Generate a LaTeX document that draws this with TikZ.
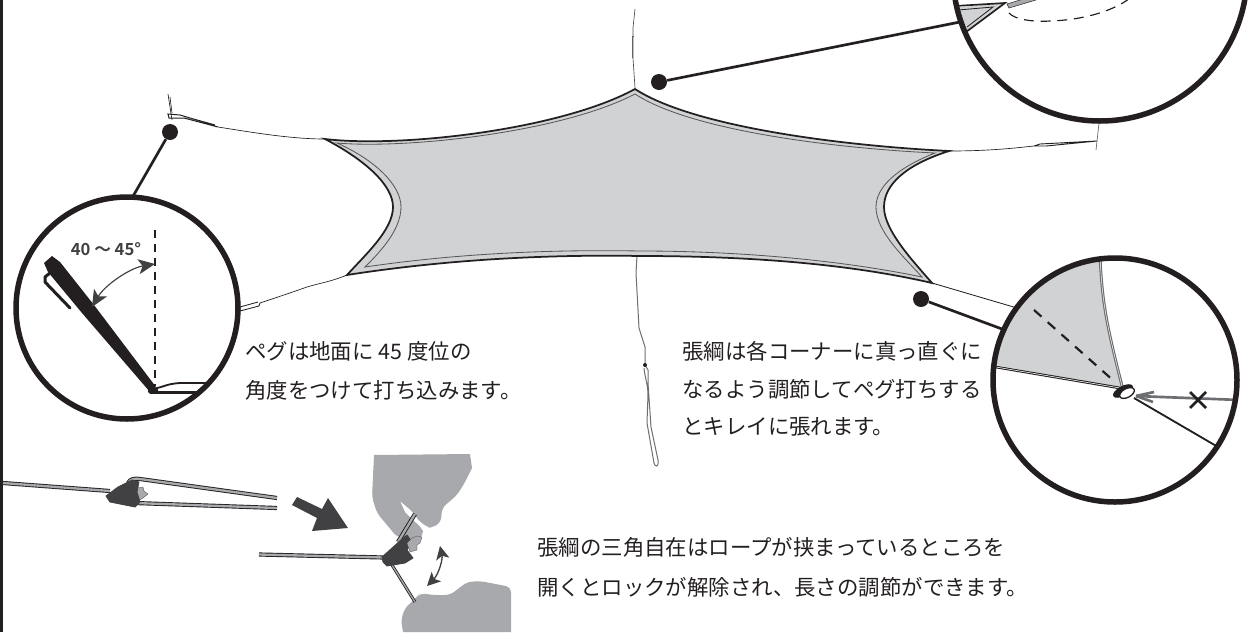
\documentclass[tikz,border=0pt]{standalone}
\usepackage{fontspec}
\newfontfamily\jp{Noto Sans CJK JP}
\newfontfamily\jpb{Noto Sans CJK JP Bold}
\usetikzlibrary{arrows.meta}
\definecolor{ink}{RGB}{35,31,32}
\definecolor{tarp}{RGB}{208,210,211}
\definecolor{hand}{RGB}{167,169,172}
\definecolor{blockc}{RGB}{65,64,66}
\definecolor{greyl}{RGB}{109,110,113}
\tikzset{
 lens/.style={draw=ink,line width=3.3pt},
 dotn/.style={circle,fill=ink,inner sep=0pt,minimum size=9.6pt},
 leader/.style={draw=ink,line width=1.6pt},
 rope/.style={draw=ink,line width=.4pt},
 txt/.style={anchor=west,inner sep=0pt,text=ink,font=\jp\fontsize{12.85}{12.85}\selectfont},
 cordo/.style={draw=ink,line width=2.5pt},
 cordi/.style={draw=hand,line width=1.4pt},
 blk/.style={fill=blockc,draw=blockc,line width=.5pt,line join=round},
 handf/.style={fill=hand,draw=none},
 knob/.style={fill=hand,draw=blockc,line width=.15pt,line join=round},
}
\newcommand{\cord}[1]{\draw[cordo] #1; \draw[cordi] #1;}
\begin{document}
\begin{tikzpicture}[x=0.6pt,y=-0.6pt]
\useasboundingbox (0,0) rectangle (1250,632);
\begin{scope}
\clip (0,0) rectangle (1250,632);
% left bar
\fill[ink] (0,0) rectangle (3,632);

% ropes
\draw[rope] (325,139) .. controls (290,139) and (250,132) .. (218,127);
\draw[rope,line width=.6pt] (218,127) -- (184,118) -- (169,118) -- (168,114) -- (180,115) -- (190,118) -- (215,125);
\draw[rope] (168,94) -- (172,120); \draw[rope] (170,97)--(172,113);
\draw[rope] (347,275) .. controls (330,282) and (320,283) .. (307,287) .. controls (290,293) and (275,298) .. (260,303);
\draw[rope,line width=.5pt] (260,303) -- (259,306) -- (240,311) -- (240,307) -- (258,302);
\draw[rope,draw=ink!80] (635,88) -- (633,58) -- (633,28) -- (635,9);
\draw[rope,draw=ink!70] (632,58) -- (632,36) -- (634,36);
\draw[rope] (949,151) .. controls (990,151) and (1015,148) .. (1034,146);
\draw[rope,line width=.55pt] (1034,146) -- (1040,144) -- (1097,141) -- (1046,146) -- (1034,146);
\draw[rope,draw=ink!70] (1099,123) -- (1096,150);
\draw[rope,draw=greyl,line width=.6pt] (637,256) -- (636,273) -- (639,328) -- (645,347) -- (645,365);
\draw[rope,draw=greyl,line width=.6pt] (644,368) .. controls (645,378) and (648,385) .. (648,395) -- (647,423) -- (654,463) .. controls (655,467) and (659,468) .. (658,460) -- (651,427) -- (648,383) -- (648,370) -- (645,365);
\fill[ink] (645,365) circle (2);

% tarp
\path[fill=tarp] (325,139) .. controls (400,148) and (560,130) .. (635,89)
 .. controls (690,125) and (830,145) .. (949,151)
 .. controls (905,165) and (884,185) .. (884,207)
 .. controls (884,230) and (912,260) .. (932,283)
 .. controls (850,264) and (750,256) .. (640,256)
 .. controls (530,254) and (430,262) .. (347,275)
 .. controls (365,255) and (393,230) .. (393,207)
 .. controls (393,185) and (365,160) .. (325,139) -- cycle;
\draw[ink,line width=1.05pt,line join=miter] (325,139) .. controls (400,148) and (560,130) .. (635,89)
 .. controls (690,125) and (830,145) .. (949,151)
 .. controls (905,165) and (884,185) .. (884,207)
 .. controls (884,230) and (912,260) .. (932,283)
 .. controls (850,264) and (750,256) .. (640,256)
 .. controls (530,254) and (430,262) .. (347,275)
 .. controls (365,255) and (393,230) .. (393,207)
 .. controls (393,185) and (365,160) .. (325,139) -- cycle;
\draw[greyl!70!ink,line width=.5pt] (337,143) .. controls (405,149) and (560,133) .. (635,94)
 .. controls (690,130) and (830,148) .. (935,153)
 .. controls (897,168) and (876,187) .. (876,207)
 .. controls (876,232) and (905,258) .. (922,277)
 .. controls (850,262) and (750,251) .. (640,251)
 .. controls (530,249) and (440,256) .. (365,267)
 .. controls (380,252) and (401,230) .. (401,207)
 .. controls (401,185) and (375,160) .. (337,143) -- cycle;

% ---- top lens
\node[dotn] (dotT) at (659,82) {};
\coordinate (lensT) at (960,22);
\draw[leader] (dotT) -- (lensT);
\begin{scope}
\clip (1100,-26) circle (147);
\fill[tarp] (950,8) -- (1005,3) -- (966,32) -- (950,32) -- cycle;
\draw[ink,line width=1pt] (955,6) -- (1005,3) -- (966,32);
\draw[ink,line width=.5pt] (958,10) -- (993,7) -- (967,27);
\fill[hand,draw=ink,line width=.3pt] (1007,4) -- (1009,8) -- (1036,0) -- (1033,-4) -- cycle;
\draw[ink,line width=.7pt,dash pattern=on 6pt off 4pt] (1009,13) .. controls (1015,20) and (1035,22) .. (1050,21) .. controls (1085,20) and (1115,10) .. (1130,-2);
\end{scope}
\node[lens,circle,inner sep=0pt,minimum size=176.4pt,fill=none] (lensTop) at (1100,-26) {};

% ---- left lens
\node[dotn] (dotL) at (170,132) {};
\coordinate (lensL) at (132,198);
\draw[leader] (dotL) -- (lensL);
\begin{scope}
\clip (127,308) circle (111);
\fill[ink] (44,263) -- (52,256) -- (60,262) -- (94,305) -- (156,387) -- (150,392) -- (82,313) -- (48,272) -- cycle;
\draw[ink,line width=1.8pt,line cap=round,line join=round] (50,273) -- (45,277) -- (45,282) -- (70,308);
\draw[ink,dash pattern=on 5pt off 3.4pt,line width=1pt] (155,230) -- (155,386);
\draw[ink,line width=1.1pt] (152,389) .. controls (165,387) and (165,384) .. (180,383) -- (208,383);
\draw[ink,line width=1.5pt] (150,392.5) -- (200,392.5);
\fill[ink,rounded corners=1pt] (148,388) rectangle (158,393.5);
\end{scope}
\draw[blockc,line width=.7pt,{Stealth[length=10pt,width=9pt,inset=2.5pt]}-{Stealth[length=10pt,width=9pt,inset=2.5pt]}] (92,307) .. controls (105,285) and (130,268) .. (155,264);
\node[inner sep=0pt,text=blockc,font=\jpb\fontsize{10}{10}\selectfont] (ang) at (106,249) {40 〜 45°};
\node[lens,circle,inner sep=0pt,minimum size=133.2pt,fill=none] (lensLeft) at (127,308) {};

% ---- right lens
\node[dotn] (dotR) at (921,299) {};
\coordinate (lensR) at (1002,329);
\draw[leader] (dotR) -- (lensR);
\draw[rope,line width=.5pt] (932,283) -- (1017,308);
\begin{scope}
\clip (1115,380) circle (122);
\fill[tarp] (1098,255) -- (1100,262) .. controls (1102,305) and (1108,330) .. (1124,387) -- (1122,388) -- (990,364) -- (985,330) -- (1050,250) -- cycle;
\draw[greyl,line width=1.7pt] (1100,255) .. controls (1102,305) and (1108,330) .. (1122,386);
\draw[white,line width=.3pt] (1100,255) .. controls (1102,305) and (1108,330) .. (1122,386);
\draw[ink,line width=1.6pt] (990,366) -- (1120,388);
\draw[white,line width=.35pt] (990,366) -- (1120,388);
\draw[ink,line width=1.3pt,dash pattern=on 6pt off 5pt] (1034,310) -- (1115,382);
\draw[ink,line width=1.1pt] (1134,398) -- (1218,447);
\draw[greyl,line width=1.6pt] (1240,400) -- (1136,396);
\draw[greyl,line width=1.6pt] (1136,396) -- (1154,392);
\draw[greyl,line width=1.6pt] (1136,396) -- (1153,402);
\draw[ink,line width=1.5pt] (1190,392) -- (1206,408) (1206,392) -- (1190,408);
\fill[ink,rotate around={28:(1123,391)}] (1123,391) ellipse (11 and 5);
\draw[ink,fill=white,line width=.8pt,rotate around={28:(1127,393)}] (1127,393) ellipse (8 and 4.4);
\end{scope}
\node[lens,circle,inner sep=0pt,minimum size=146.4pt,fill=none] (lensRight) at (1115,380) {};

% ---- tensioner left
\cord{(3,483) -- (110,491)}
\cord{(128,483) .. controls (130,479) and (135,478) .. (140,479) -- (277,498)}
\cord{(135,503) -- (277,508)}
\fill[knob] (137,488) -- (143,487) -- (144,491) -- (148,494) -- (143,498) -- (140,500) -- (136,494) -- cycle;
\draw[blk] (106,496) -- (118,487) -- (132,480) -- (139,482) -- (137,492) -- (140,502) -- (135,507) -- (110,502) -- cycle;

% big arrow
\fill[blockc] (292,505) -- (297,497) -- (322,509) -- (328,498) -- (348,528) -- (312,531) -- (317,518) -- cycle;

% hands
\fill[handf] (374,455) -- (470,454) -- (472,468) [rounded corners=3pt] -- (464,484) -- (457,495) -- (442,508) -- (441,522) -- (432,528) -- (427,527) -- (418,520) -- (413,512) [sharp corners] -- (400,501) -- (405,512) [rounded corners=3pt] -- (415,522) -- (422,528) -- (424,535) -- (417,540) -- (397,537) -- (377,513) -- (372,497) [sharp corners] -- cycle;
\fill[handf,rounded corners=3pt] (417,597) -- (420,593) -- (433,595) -- (450,595) -- (467,582) -- (480,581) -- (511,587) [sharp corners] -- (511,632) -- (403,632) [rounded corners=3pt] -- (401,620) -- (405,608) -- cycle;

% tensioner right
\cord{(259,554.5) -- (384,557.5)}
\cord{(398,542) -- (415,514)}
\draw[ink,line width=1.8pt] (392,565) -- (415,602);
\draw[hand,line width=.8pt] (392,565) -- (415,602);
\draw[blk] (382,557) -- (402,539) -- (407,535) -- (412,542) -- (407,550) -- (413,558) -- (405,563) -- (387,566) -- (383,562) -- cycle;
\fill[knob] (407,543) -- (412,538) -- (417,536) -- (422,537) -- (420,543) -- (417,545) -- (417,550) -- (410,552) -- cycle;
\draw[blockc,line width=.8pt,{Stealth[length=8pt,width=8pt,inset=2pt]}-{Stealth[length=8pt,width=8pt,inset=2pt]}] (440,546) .. controls (443,560) and (438,575) .. (427,586);

% texts
\node[txt] (t1) at (245,351) {ペグは地面に 45 度位の};
\node[txt] (t2) at (245,390) {角度をつけて打ち込みます。};
\node[txt] (t3) at (682,351) {張綱は各コーナーに真っ直ぐに};
\node[txt] (t4) at (682,389) {なるよう調節してペグ打ちする};
\node[txt] (t5) at (682,427) {とキレイに張れます。};
\node[txt] (t6) at (537,547) {張綱の三角自在はロープが挟まっているところを};
\node[txt] (t7) at (537,587) {開くとロックが解除され、長さの調節ができます。};
\end{scope}
\end{tikzpicture}
\end{document}
